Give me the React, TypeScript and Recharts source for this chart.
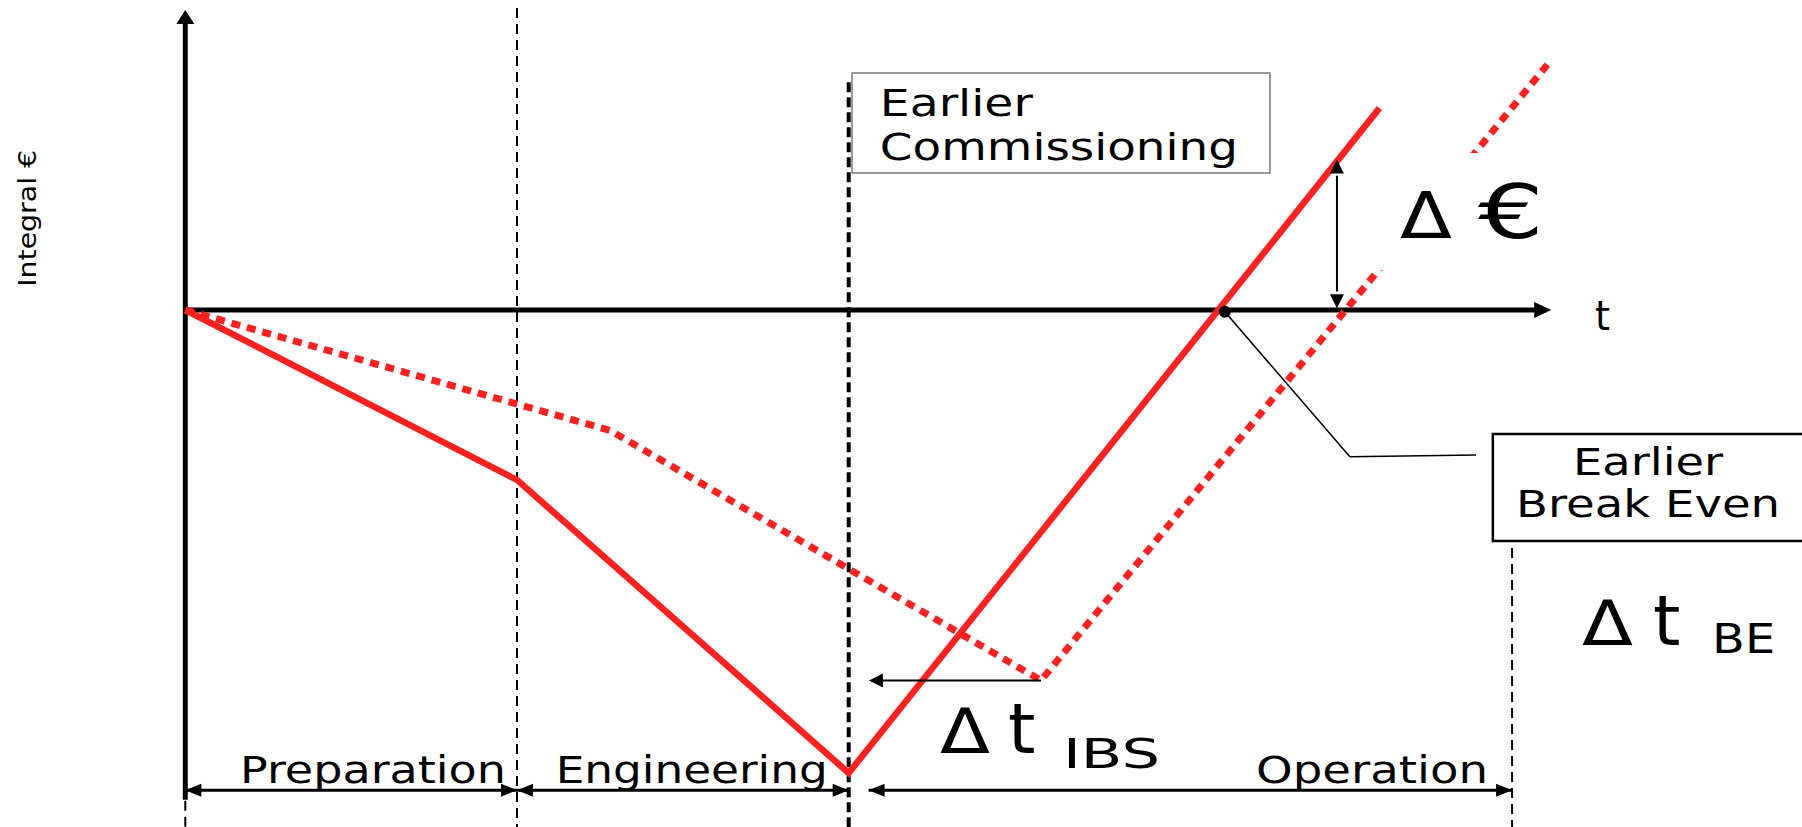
import React from 'react';
import { ComposedChart, Line, XAxis, YAxis, ReferenceLine, ReferenceDot, ReferenceArea } from 'recharts';

// time axis in phase units: preparation ends at 10, engineering at 20, operation at 40
// money axis: 0 is the cash line, deepest point of the planned curve is -10
const phaseNames = ['Preparation', 'Engineering', 'Operation'];
const phaseStart = [0, 10, 20.6];
const phaseEnd = [10, 20, 40];

// cumulative cash flow with earlier commissioning (solid) and as originally planned (dotted)
const earlyCurve = [
  { t: 0, y: 0 },
  { t: 10, y: -3.67 },
  { t: 20, y: -10 },
  { t: 36, y: 4.36 },
];
const plannedCurve = [
  { t: 0, y: 0 },
  { t: 12.8, y: -2.6 },
  { t: 25.8, y: -8.0 },
  { t: 41.1, y: 5.33 },
];

const RED = '#ff2020';
const FONT = '"DejaVu Sans", Verdana, sans-serif';

const head = (dir: string, len: number, half: number) => (p: any) => {
  const { cx, cy } = p;
  let pts = '';
  if (dir === 'r') pts = `${cx},${cy} ${cx - len},${cy - half} ${cx - len},${cy + half}`;
  if (dir === 'l') pts = `${cx},${cy} ${cx + len},${cy - half} ${cx + len},${cy + half}`;
  if (dir === 'u') pts = `${cx},${cy} ${cx - half},${cy + len} ${cx + half},${cy + len}`;
  if (dir === 'd') pts = `${cx},${cy} ${cx - half},${cy - len} ${cx + half},${cy - len}`;
  return <polygon points={pts} fill="#000" />;
};

type Txt = { t: number; y: number; s: string; size: number; w?: number; anchor?: string; rot?: boolean; dx?: number };

const textShape = (o: Txt) => (p: any) => (
  <text
    x={p.cx + (o.dx || 0)}
    y={p.cy}
    fontFamily={FONT}
    fontSize={o.size}
    fill="#000"
    textAnchor={o.anchor || 'start'}
    textLength={o.w}
    lengthAdjust={o.w ? 'spacingAndGlyphs' : undefined}
    transform={o.rot ? `rotate(-90 ${p.cx} ${p.cy})` : undefined}
  >
    {o.s}
  </text>
);

export default function App() {
  const labelGap = [11, 21, 24];
  const labelWidth = [266, 272, 232];
  const dip = plannedCurve[2];

  const texts: Txt[] = [
    { t: -4.49, y: 0.5, s: 'Integral €', size: 25, w: 137, rot: true },
    { t: 42.5, y: -0.43, s: 't', size: 40, w: 15 },
    { t: 20.94, y: 4.19, s: 'Earlier', size: 38, w: 153 },
    { t: 20.94, y: 3.24, s: 'Commissioning', size: 38, w: 358 },
    { t: 44.1, y: -3.56, s: 'Earlier', size: 37, w: 150, anchor: 'middle' },
    { t: 44.1, y: -4.47, s: 'Break Even', size: 37, w: 264, anchor: 'middle' },
    // delta euro
    { t: 36.62, y: 1.56, s: 'Δ', size: 64, w: 52 },
    { t: 38.97, y: 1.56, s: '€', size: 74, w: 66 },
    // delta t IBS
    { t: 22.75, y: -9.56, s: 'Δ', size: 62, w: 50 },
    { t: 24.8, y: -9.56, s: 't', size: 70 },
    { t: 26.46, y: -9.89, s: 'IBS', size: 41, w: 97 },
    // delta t BE
    { t: 42.11, y: -7.24, s: 'Δ', size: 62, w: 51 },
    { t: 44.25, y: -7.24, s: 't', size: 70 },
    { t: 46.03, y: -7.4, s: 'BE', size: 41, w: 63 },
  ];
  phaseNames.forEach((n, i) => {
    texts.push({ t: phaseEnd[i], y: -10.22, s: n, size: 37, w: labelWidth[i], anchor: 'end', dx: -labelGap[i] });
  });

  const arrowY = -10.37;

  return (
    <div style={{ position: 'absolute', left: 0, top: 0, width: 1802, height: 827, background: '#fff' }}>
      <ComposedChart width={1802} height={827} margin={{ top: 0, right: 0, bottom: 0, left: 0 }}>
        <XAxis dataKey="t" type="number" domain={[-5.586, 48.74]} allowDataOverflow hide />
        <YAxis type="number" domain={[-11.166, 6.695]} allowDataOverflow hide />

        {/* milestone lines */}
        <ReferenceLine segment={[{ x: 0, y: -10.6 }, { x: 0, y: -11.3 }]} stroke="#000" strokeWidth={2} strokeDasharray="10 6" ifOverflow="visible" />
        <ReferenceLine segment={[{ x: 10, y: 6.52 }, { x: 10, y: -11.3 }]} stroke="#000" strokeWidth={2} strokeDasharray="10 6" ifOverflow="visible" />
        <ReferenceLine segment={[{ x: 20, y: 4.92 }, { x: 20, y: -11.3 }]} stroke="#000" strokeWidth={4} strokeDasharray="10 5" ifOverflow="visible" />
        <ReferenceLine segment={[{ x: 40, y: -5.14 }, { x: 40, y: -11.3 }]} stroke="#000" strokeWidth={2} strokeDasharray="10 6" ifOverflow="visible" />

        {/* axes with arrows */}
        <ReferenceLine segment={[{ x: 0, y: -10.58 }, { x: 0, y: 6.2 }]} stroke="#000" strokeWidth={5} ifOverflow="visible" />
        <ReferenceDot x={0} y={6.48} r={0} shape={head('u', 14, 9)} ifOverflow="visible" />
        <ReferenceLine segment={[{ x: 0, y: 0 }, { x: 40.7, y: 0 }]} stroke="#000" strokeWidth={5} ifOverflow="visible" />
        <ReferenceDot x={41.18} y={0} r={0} shape={head('r', 17, 8)} ifOverflow="visible" />

        {/* phase arrows */}
        {phaseNames.map((n, i) => (
          <ReferenceLine key={'pl' + n} segment={[{ x: phaseStart[i], y: arrowY }, { x: phaseEnd[i], y: arrowY }]} stroke="#000" strokeWidth={3} ifOverflow="visible" />
        ))}
        {phaseNames.map((n, i) => (
          <ReferenceDot key={'pa' + n} x={phaseStart[i]} y={arrowY} r={0} shape={head('l', 16, 6.5)} ifOverflow="visible" />
        ))}
        {phaseNames.map((n, i) => (
          <ReferenceDot key={'pb' + n} x={phaseEnd[i]} y={arrowY} r={0} shape={head('r', 16, 6.5)} ifOverflow="visible" />
        ))}

        <Line data={plannedCurve} dataKey="y" type="linear" stroke={RED} strokeWidth={7} strokeDasharray="9 7" dot={false} activeDot={false} isAnimationActive={false} />
        <Line data={earlyCurve} dataKey="y" type="linear" stroke={RED} strokeWidth={6.5} dot={false} activeDot={false} isAnimationActive={false} />

        {/* white backing of the delta-euro label */}
        <ReferenceArea x1={35.4} x2={42.1} y1={0.86} y2={3.39} fill="#fff" fillOpacity={1} stroke="none" ifOverflow="visible" zIndex={1500} />

        {/* delta euro */}
        <ReferenceLine segment={[{ x: 34.72, y: 0.4 }, { x: 34.72, y: 2.9 }]} stroke="#000" strokeWidth={2} ifOverflow="visible" zIndex={1500} />
        <ReferenceDot x={34.72} y={3.25} r={0} shape={head('u', 14, 7)} ifOverflow="visible" zIndex={1500} />
        <ReferenceDot x={34.72} y={0.04} r={0} shape={head('d', 14, 7)} ifOverflow="visible" zIndex={1500} />

        {/* delta t IBS */}
        <ReferenceLine segment={[{ x: dip.t, y: dip.y }, { x: 21.0, y: dip.y }]} stroke="#000" strokeWidth={2} ifOverflow="visible" zIndex={1500} />
        <ReferenceDot x={20.61} y={dip.y} r={0} shape={head('l', 14, 7)} ifOverflow="visible" zIndex={1500} />

        {/* break even callout */}
        <ReferenceDot x={31.34} y={-0.04} r={6} fill="#000" stroke="none" ifOverflow="visible" zIndex={1500} />
        <ReferenceLine segment={[{ x: 31.34, y: -0.04 }, { x: 35.11, y: -3.17 }]} stroke="#000" strokeWidth={1.5} ifOverflow="visible" zIndex={1500} />
        <ReferenceLine segment={[{ x: 35.11, y: -3.17 }, { x: 38.91, y: -3.13 }]} stroke="#000" strokeWidth={1.5} ifOverflow="visible" zIndex={1500} />

        <ReferenceArea x1={20.1} x2={32.7} y1={2.96} y2={5.12} fill="#fff" fillOpacity={1} stroke="#777" strokeWidth={1.5} ifOverflow="visible" zIndex={1500} />
        <ReferenceArea x1={39.42} x2={49.6} y1={-4.99} y2={-2.68} fill="#fff" fillOpacity={1} stroke="#000" strokeWidth={2.5} ifOverflow="visible" zIndex={1500} />

        {texts.map((o, i) => (
          <ReferenceDot key={'tx' + i} x={o.t} y={o.y} r={0} shape={textShape(o)} ifOverflow="visible" zIndex={2000} />
        ))}
      </ComposedChart>
    </div>
  );
}
